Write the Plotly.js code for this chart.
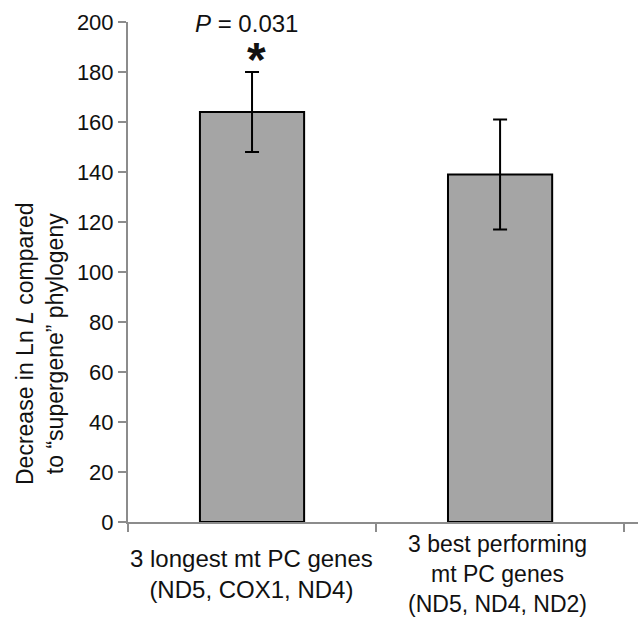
<!DOCTYPE html>
<html>
<head>
<meta charset="utf-8">
<script src="https://cdn.plot.ly/plotly-3.0.1.min.js"></script>
<style>html,body{margin:0;padding:0;background:#fff;}#chart{width:638px;height:617px;}</style>
</head>
<body>
<div id="chart"></div>
<script>
const categories = ["3 longest mt PC genes<br>(ND5, COX1, ND4)", "3 best performing<br>mt PC genes<br>(ND5, ND4, ND2)"];
const values = [164, 139];
const errPlus = [16, 22];
const errMinus = [16, 22];
const yTicks = [0, 20, 40, 60, 80, 100, 120, 140, 160, 180, 200];
const pLabel = "<i>P</i> = 0.031";
const starLabel = "*";

const font = "Liberation Sans, Arial, sans-serif";
const axisGray = "#8c8c8c";

const trace = {
  type: "bar",
  x: categories,
  y: values,
  width: 0.42,
  marker: {color: "#a5a5a5", line: {color: "#000", width: 2}},
  error_y: {type: "data", symmetric: false, array: errPlus, arrayminus: errMinus,
            color: "#000", thickness: 2, width: 7},
  hoverinfo: "skip"
};

const annotations = categories.map((c, i) => ({
  x: c, xref: "x", y: 0, yref: "y", yshift: -52, xshift: i === 0 ? -1 : -3,
  text: c, showarrow: false, yanchor: "middle", xanchor: "center",
  font: {family: font, size: i === 0 ? 24 : 23, color: "#111"}
}));
annotations.push({
  x: categories[0], xref: "x", y: 200, yref: "y", xshift: -6, yshift: -1,
  text: pLabel, showarrow: false, yanchor: "middle",
  font: {family: font, size: 24, color: "#111"}
});
annotations.push({
  x: categories[0], xref: "x", y: 180, yref: "y", yshift: 13, xshift: 4,
  text: "<b>" + starLabel + "</b>", showarrow: false, yanchor: "middle",
  font: {family: font, size: 48, color: "#111"}
});
annotations.push({
  x: 0, xref: "paper", xshift: -88, y: 0.356, yref: "paper",
  text: "Decrease in Ln <i>L</i> compared<br>to “supergene” phylogeny",
  textangle: -90, showarrow: false, xanchor: "center", yanchor: "middle",
  font: {family: font, size: 23, color: "#111"}
});

const layout = {
  width: 638, height: 617,
  margin: {l: 128, r: 0, t: 22, b: 95},
  paper_bgcolor: "#fff", plot_bgcolor: "#fff",
  showlegend: false,
  font: {family: font, color: "#111"},
  xaxis: {
    type: "category", range: [-0.5, 1.556],
    showline: true, linecolor: axisGray, linewidth: 2,
    ticks: "outside", tickson: "boundaries", ticklen: 8, tickwidth: 2, tickcolor: axisGray,
    showticklabels: false, showgrid: false, zeroline: false
  },
  yaxis: {
    range: [0, 200], tickvals: yTicks, ticktext: yTicks.map(String),
    showline: true, linecolor: axisGray, linewidth: 2,
    ticks: "outside", ticklen: 8, tickwidth: 2, tickcolor: axisGray,
    tickfont: {family: font, size: 22, color: "#111"},
    showgrid: false, zeroline: false
  },
  annotations: annotations
};

Plotly.newPlot("chart", [trace], layout, {staticPlot: true});
</script>
</body>
</html>
